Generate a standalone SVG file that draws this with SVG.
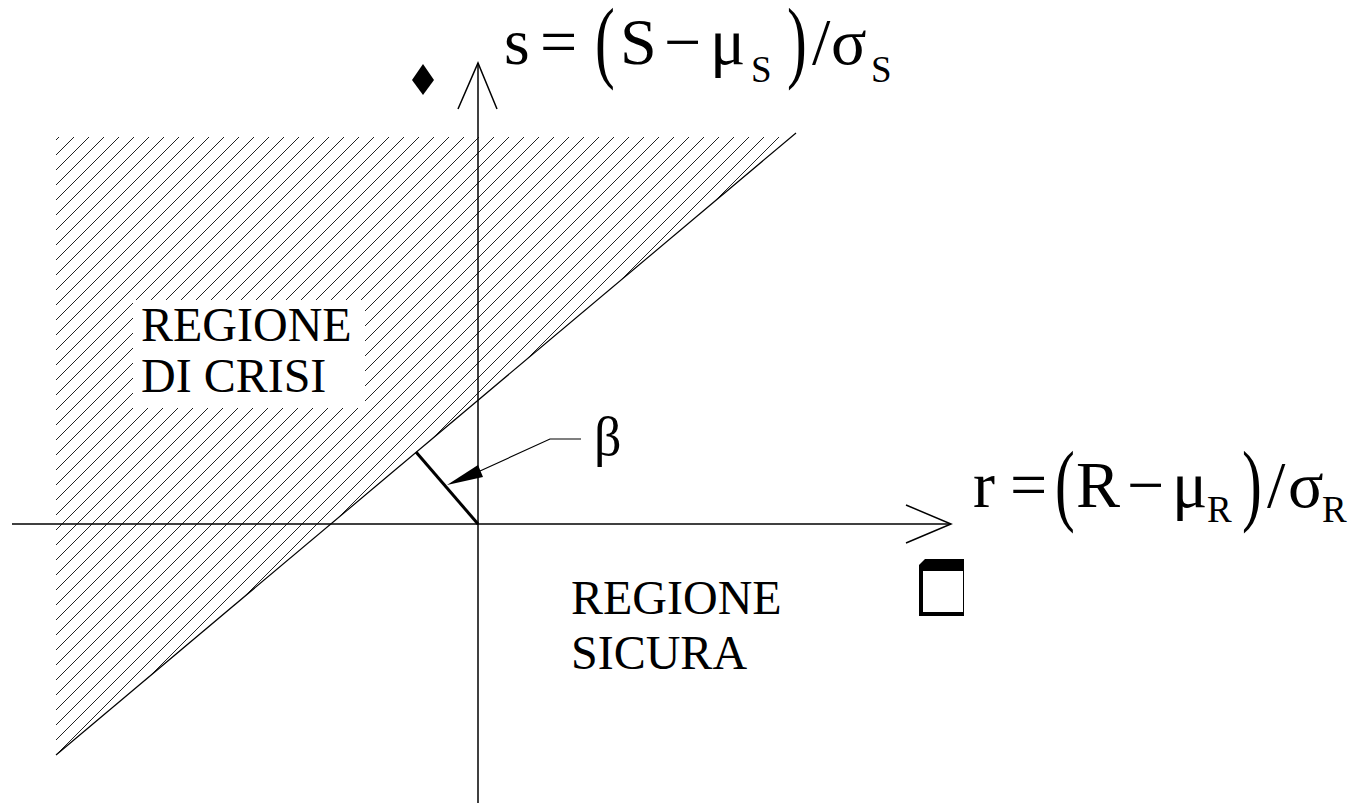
<svg xmlns="http://www.w3.org/2000/svg" width="1354" height="803" viewBox="0 0 1354 803">
<style>
text{font-family:'Liberation Serif','Times New Roman',serif;fill:#000}
.m{font-size:66px}
.sub{font-size:37px}
.lab{font-size:48px}
.ax{stroke:#000;stroke-width:1.5;fill:none}
</style>
<defs>
<pattern id="hatch" patternUnits="userSpaceOnUse" x="1" y="0" width="15" height="15">
<path d="M-1,16 L16,-1 M-4,4 L4,-4 M11,19 L19,11" stroke="#222" stroke-width="1" fill="none"/>
</pattern>
</defs>
<g id="crisis-region">
<polygon points="56,137 791,137 56,755" fill="url(#hatch)"/>
<rect x="133" y="300" width="232" height="108" fill="#fff"/>
<line x1="56" y1="755" x2="796" y2="133" stroke="#000" stroke-width="1.2"/>
<text class="lab" x="141" y="341">REGIONE</text>
<text class="lab" x="141" y="392">DI CRISI</text>
</g>
<g id="safe-region">
<text class="lab" x="571" y="614">REGIONE</text>
<text class="lab" x="571" y="669">SICURA</text>
</g>
<g id="connectors">
<line class="ax" x1="12" y1="524" x2="951" y2="524"/>
<polyline class="ax" points="906,505 951,524 906,543"/>
<line class="ax" x1="478" y1="63" x2="478" y2="803"/>
<polyline class="ax" points="458,109 478,63 497,109"/>
<line x1="478" y1="524" x2="416" y2="452" stroke="#000" stroke-width="3"/>
<polyline points="581,439 550,439 480,471" fill="none" stroke="#000" stroke-width="1.2"/>
<polygon points="447,485 478,465 483,477" fill="#000"/>
</g>
<g id="beta-label">
<text style="font-size:54px" x="594" y="455">β</text>
</g>
<g id="s-axis-label">
<text class="m" x="504" y="64">s</text>
<text class="m" x="540" y="64">=</text>
<text class="m" transform="translate(595,71) scale(0.9,1.38)" x="0" y="0">(</text>
<text class="m" x="620" y="64">S</text>
<text class="m" x="664" y="64">−</text>
<text class="m" x="710" y="64">μ</text>
<text class="sub" x="751" y="82">S</text>
<text class="m" transform="translate(787,71) scale(0.9,1.38)" x="0" y="0">)</text>
<text class="m" x="812" y="64">/</text>
<text class="m" x="831" y="64">σ</text>
<text class="sub" x="871" y="82">S</text>
</g>
<g id="r-axis-label">
<text class="m" x="973" y="507">r</text>
<text class="m" x="1010" y="507">=</text>
<text class="m" transform="translate(1055,514) scale(0.9,1.38)" x="0" y="0">(</text>
<text class="m" x="1076" y="507">R</text>
<text class="m" x="1127" y="507">−</text>
<text class="m" x="1172" y="507">μ</text>
<text class="sub" x="1207" y="522">R</text>
<text class="m" transform="translate(1242,514) scale(0.9,1.38)" x="0" y="0">)</text>
<text class="m" x="1267" y="507">/</text>
<text class="m" x="1288" y="507">σ</text>
<text class="sub" x="1322" y="522">R</text>
</g>
<g id="diamond-symbol">
<polygon points="423,64 434,80 423,95 412,80" fill="#000"/>
</g>
<g id="box-symbol">
<polygon points="925,559 964,559 964,616 919,616 919,565" fill="#000"/>
<rect x="923" y="571" width="40" height="41" fill="#fff"/>
</g>
</svg>
